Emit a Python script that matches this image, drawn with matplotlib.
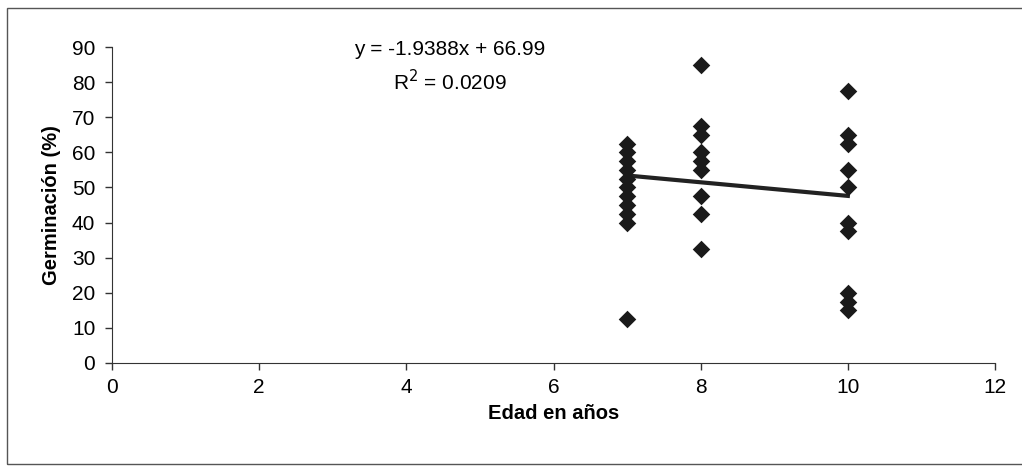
import numpy as np
import matplotlib
matplotlib.use("Agg")
import matplotlib.pyplot as plt
from matplotlib.patches import Rectangle

plt.rcParams['font.family'] = ['Liberation Sans', 'DejaVu Sans']

# datos
edad_7 = [62.5, 60, 57.5, 55, 52.5, 50, 47.5, 45, 42.5, 40, 12.5]
edad_8 = [85, 67.5, 65, 60, 57.5, 55, 47.5, 42.5, 32.5]
edad_10 = [77.5, 65, 62.5, 55, 50, 40, 37.5, 20, 17.5, 15]

edades = [7] * len(edad_7) + [8] * len(edad_8) + [10] * len(edad_10)
germinacion = edad_7 + edad_8 + edad_10

# recta de tendencia (de la etiqueta)
pendiente = -1.9388
intercepto = 66.99
r2 = 0.0209

x_ticks = [0, 2, 4, 6, 8, 10, 12]
y_ticks = [0, 10, 20, 30, 40, 50, 60, 70, 80, 90]

fig = plt.figure(figsize=(10.22, 4.68), dpi=100)
ax = fig.add_axes([0.1096, 0.2244, 0.864, 0.675])

# marco exterior (cortado a la derecha)
fig.patches.append(Rectangle((7 / 1022, 4 / 468), 1.0, 456 / 468, transform=fig.transFigure,
                             fill=False, edgecolor='#555555', linewidth=1.0))

ax.scatter(edades, germinacion, marker='D', s=80, color='#1a1a1a', zorder=3, linewidths=0)

x_fit = np.array([min(edades), max(edades)])
ax.plot(x_fit, pendiente * x_fit + intercepto, color='#222222', linewidth=3, zorder=2)

ax.text(4.59, 89.2, f"y = {pendiente}x + {intercepto}", ha='center', va='center', fontsize=15)
ax.text(4.59, 80.2, f"R$^2$ = {r2}", ha='center', va='center', fontsize=15)

ax.set_xlim(0, 12)
ax.set_ylim(0, 90)
ax.set_xticks(x_ticks)
ax.set_yticks(y_ticks)
ax.tick_params(axis='both', labelsize=15, direction='out', length=5, width=1, color='#333333')
ax.tick_params(axis='y', pad=7)
ax.tick_params(axis='x', pad=6)
for side in ['top', 'right']:
    ax.spines[side].set_visible(False)
for side in ['left', 'bottom']:
    ax.spines[side].set_color('#333333')

ax.set_xlabel("Edad en años", fontsize=14.5, fontweight='bold', labelpad=5)
ax.set_ylabel("Germinación (%)", fontsize=14.5, fontweight='bold', labelpad=8)

fig.savefig("out.png", dpi=100)
